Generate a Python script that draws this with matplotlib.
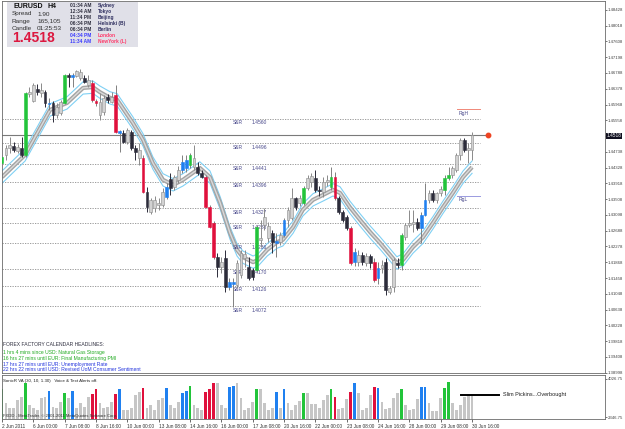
import matplotlib
matplotlib.use("Agg")
import matplotlib.pyplot as plt
from matplotlib.patches import Rectangle

plt.rcParams['font.family'] = ['Liberation Sans', 'DejaVu Sans']

# --- EURUSD H4 candles (2 Jun 2011 .. 30 Jun 2011) ---
opens = [1.4445, 1.4466, 1.4484, 1.4489, 1.4476, 1.4484, 1.4466, 1.4624, 1.4606, 1.4637,
         1.4627, 1.4629, 1.4598, 1.4601, 1.4570, 1.4575, 1.4601, 1.4674, 1.4668, 1.4671,
         1.4666, 1.4666, 1.4648, 1.4653, 1.4606, 1.4570, 1.4577, 1.4616, 1.4603, 1.4622,
         1.4528, 1.4523, 1.4499, 1.4525, 1.4484, 1.4458, 1.4458, 1.4369, 1.4317, 1.4328,
         1.4336, 1.4336, 1.4356, 1.4403, 1.4382, 1.4401, 1.4427, 1.4432, 1.4440, 1.4434,
         1.4434, 1.4419, 1.4408, 1.4330, 1.4289, 1.4200, 1.4174, 1.4198, 1.4122, 1.4130,
         1.4128, 1.4154, 1.4198, 1.4174, 1.4167, 1.4167, 1.4245, 1.4284, 1.4250, 1.4263,
         1.4242, 1.4239, 1.4258, 1.4297, 1.4302, 1.4354, 1.4341, 1.4341, 1.4380, 1.4395,
         1.4406, 1.4375, 1.4369, 1.4395, 1.4382, 1.4408, 1.4354, 1.4317, 1.4304, 1.4276,
         1.4187, 1.4187, 1.4206, 1.4185, 1.4203, 1.4187, 1.4146, 1.4172, 1.4187, 1.4109,
         1.4122, 1.4185, 1.4180, 1.4252, 1.4284, 1.4286, 1.4291, 1.4276, 1.4310, 1.4349,
         1.4367, 1.4349, 1.4367, 1.4375, 1.4406, 1.4414, 1.4427, 1.4466, 1.4505, 1.4479,
         1.4479]
highs = [1.4466, 1.4492, 1.4512, 1.4499, 1.4494, 1.4512, 1.4629, 1.4642, 1.4653, 1.4650,
         1.4653, 1.4635, 1.4614, 1.4606, 1.4601, 1.4609, 1.4676, 1.4679, 1.4679, 1.4687,
         1.4689, 1.4674, 1.4674, 1.4661, 1.4611, 1.4627, 1.4622, 1.4624, 1.4629, 1.4648,
         1.4531, 1.4531, 1.4536, 1.4531, 1.4492, 1.4497, 1.4466, 1.4382, 1.4354, 1.4359,
         1.4354, 1.4380, 1.4393, 1.4419, 1.4414, 1.4437, 1.4466, 1.4466, 1.4471, 1.4492,
         1.4447, 1.4427, 1.4414, 1.4336, 1.4294, 1.4211, 1.4200, 1.4219, 1.4146, 1.4146,
         1.4193, 1.4219, 1.4219, 1.4200, 1.4172, 1.4284, 1.4297, 1.4328, 1.4291, 1.4271,
         1.4263, 1.4265, 1.4302, 1.4330, 1.4380, 1.4356, 1.4362, 1.4385, 1.4414, 1.4419,
         1.4427, 1.4385, 1.4408, 1.4414, 1.4434, 1.4421, 1.4359, 1.4323, 1.4310, 1.4281,
         1.4224, 1.4219, 1.4213, 1.4211, 1.4208, 1.4198, 1.4187, 1.4193, 1.4198, 1.4125,
         1.4198, 1.4198, 1.4263, 1.4289, 1.4323, 1.4323, 1.4302, 1.4317, 1.4393, 1.4375,
         1.4375, 1.4369, 1.4385, 1.4414, 1.4434, 1.4437, 1.4471, 1.4510, 1.4510, 1.4497,
         1.4525]
lows = [1.4440, 1.4453, 1.4471, 1.4473, 1.4471, 1.4460, 1.4460, 1.4616, 1.4603, 1.4622,
        1.4616, 1.4590, 1.4583, 1.4551, 1.4562, 1.4570, 1.4598, 1.4642, 1.4642, 1.4668,
        1.4661, 1.4653, 1.4642, 1.4603, 1.4593, 1.4557, 1.4570, 1.4601, 1.4601, 1.4523,
        1.4473, 1.4497, 1.4494, 1.4479, 1.4453, 1.4440, 1.4367, 1.4317, 1.4312, 1.4317,
        1.4323, 1.4330, 1.4351, 1.4362, 1.4375, 1.4393, 1.4419, 1.4421, 1.4432, 1.4427,
        1.4414, 1.4406, 1.4328, 1.4276, 1.4195, 1.4148, 1.4159, 1.4109, 1.4115, 1.4070,
        1.4120, 1.4146, 1.4174, 1.4141, 1.4141, 1.4161, 1.4226, 1.4271, 1.4239, 1.4211,
        1.4200, 1.4232, 1.4252, 1.4278, 1.4297, 1.4323, 1.4333, 1.4336, 1.4375, 1.4382,
        1.4369, 1.4359, 1.4356, 1.4385, 1.4375, 1.4349, 1.4312, 1.4291, 1.4271, 1.4180,
        1.4177, 1.4177, 1.4180, 1.4177, 1.4172, 1.4135, 1.4130, 1.4159, 1.4102, 1.4104,
        1.4109, 1.4172, 1.4167, 1.4245, 1.4278, 1.4265, 1.4271, 1.4237, 1.4307, 1.4341,
        1.4343, 1.4341, 1.4359, 1.4362, 1.4401, 1.4406, 1.4421, 1.4453, 1.4473, 1.4445,
        1.4453]
closes = [1.4460, 1.4484, 1.4492, 1.4479, 1.4486, 1.4466, 1.4627, 1.4629, 1.4648, 1.4629,
          1.4635, 1.4601, 1.4601, 1.4570, 1.4590, 1.4603, 1.4674, 1.4668, 1.4674, 1.4684,
          1.4681, 1.4655, 1.4661, 1.4609, 1.4601, 1.4603, 1.4614, 1.4609, 1.4616, 1.4525,
          1.4523, 1.4499, 1.4531, 1.4484, 1.4473, 1.4479, 1.4369, 1.4330, 1.4349, 1.4349,
          1.4341, 1.4369, 1.4382, 1.4380, 1.4408, 1.4427, 1.4447, 1.4453, 1.4466, 1.4458,
          1.4419, 1.4408, 1.4330, 1.4278, 1.4200, 1.4174, 1.4187, 1.4122, 1.4135, 1.4135,
          1.4185, 1.4211, 1.4208, 1.4146, 1.4148, 1.4278, 1.4250, 1.4304, 1.4281, 1.4239,
          1.4237, 1.4258, 1.4297, 1.4323, 1.4354, 1.4330, 1.4354, 1.4380, 1.4406, 1.4411,
          1.4375, 1.4372, 1.4395, 1.4401, 1.4408, 1.4354, 1.4317, 1.4297, 1.4276, 1.4185,
          1.4213, 1.4206, 1.4187, 1.4203, 1.4185, 1.4141, 1.4172, 1.4180, 1.4115, 1.4120,
          1.4193, 1.4180, 1.4258, 1.4284, 1.4289, 1.4291, 1.4276, 1.4310, 1.4349, 1.4367,
          1.4349, 1.4367, 1.4377, 1.4406, 1.4414, 1.4432, 1.4466, 1.4505, 1.4479, 1.4484,
          1.4518]

# SonicR VA volume
volume = [3585, 2966, 2745, 2745, 3098, 3231, 3850, 2877, 2745, 2656,
          3187, 3231, 3496, 2789, 2745, 3010, 3408, 3187, 3496, 2745,
          2966, 2789, 3231, 3364, 3585, 2966, 2745, 2789, 3010, 3364,
          3585, 2656, 2656, 2745, 3319, 3452, 3629, 2745, 2877, 2656,
          3098, 3187, 3629, 2877, 2745, 3010, 3408, 3496, 3717, 2877,
          2745, 2656, 3452, 3585, 3850, 3850, 2877, 2745, 3673, 3717,
          3850, 3187, 2656, 2745, 3010, 3585, 3585, 2966, 2656, 2745,
          3452, 2745, 3585, 2966, 2656, 2877, 3054, 3408, 3408, 2922,
          2922, 2745, 3098, 3319, 3585, 3231, 2701, 2745, 3143, 3452,
          3850, 3408, 2656, 2745, 3319, 3673, 3629, 3010, 2701, 2745,
          3187, 3408, 3585, 2877, 2656, 2701, 3143, 3673, 3673, 2966,
          2612, 2612, 3187, 3629, 3894, 2966, 2656, 2877, 3231, 3364,
          3364]
green_bars = [0, 6, 16, 48, 65, 77, 84, 102, 113, 114]
red_bars = [23, 24, 29, 36, 52, 53, 54, 85, 89, 95]
blue_bars = [12, 18, 30, 42, 46, 47, 58, 59, 70, 72, 90, 96, 107, 108]

# moving average ribbon, read at bar positions
ma_bar = [0, 5.9, 12.3, 16.6, 20.7, 23.2, 25, 27.6, 29.4, 33.4, 36, 38.5, 41.1, 43.7, 46.2,
          50.5, 53.1, 55.7, 58.2, 60, 61.5, 64.1, 65.4, 67.7, 70.2, 71.7, 74.3, 76.8, 79.4,
          82, 84.5, 86.3, 88.8, 91.4, 94, 96.5, 100.8, 102.4, 104.9, 107.5, 110, 112.6,
          115.1, 117.7, 120]
ma_val = [1.4408, 1.4466, 1.4583, 1.4601, 1.4640, 1.4642, 1.4629, 1.4614, 1.4609, 1.4549,
          1.4505, 1.4445, 1.4401, 1.4388, 1.4401, 1.4432, 1.4408, 1.4341, 1.4263, 1.4219,
          1.4200, 1.4187, 1.4193, 1.4219, 1.4239, 1.4245, 1.4278, 1.4323, 1.4349, 1.4362,
          1.4375, 1.4367, 1.4330, 1.4297, 1.4265, 1.4237, 1.4185, 1.4193, 1.4226, 1.4252,
          1.4289, 1.4330, 1.4367, 1.4408, 1.4434]
env_width = 0.0016

sr_levels = [1.4560, 1.4496, 1.4441, 1.4396, 1.4327, 1.4288, 1.4236, 1.4170, 1.4126, 1.4072]
range_high = 1.4584
range_low = 1.4360
bid = 1.4518

price_ticks = ["1.38998", "1.39408", "1.39818", "1.40228", "1.40638", "1.41048", "1.41458",
               "1.41868", "1.42278", "1.42688", "1.43098", "1.43508", "1.43918", "1.44328",
               "1.44738", "1.45148", "1.45558", "1.45968", "1.46378", "1.46788", "1.47198",
               "1.47608", "1.48018", "1.48428"]
vol_ticks = ["2346.75", "4026.75"]
time_bars = [0, 8, 16, 24, 32, 40, 48, 56, 64, 72, 80, 88, 96, 104, 112, 120]
time_labels = ["2 Jun 2011", "6 Jun 00:00", "7 Jun 08:00", "8 Jun 16:00", "10 Jun 00:00",
               "13 Jun 08:00", "14 Jun 16:00", "16 Jun 00:00", "17 Jun 08:00", "20 Jun 16:00",
               "22 Jun 00:00", "23 Jun 08:00", "24 Jun 16:00", "28 Jun 00:00", "29 Jun 08:00",
               "30 Jun 16:00"]

sessions = [("01:34 AM", "Sydney"), ("12:34 AM", "Tokyo"), ("11:34 PM", "Beijing"),
            ("06:34 PM", "Helsinki (B)"), ("06:34 PM", "Berlin"), ("04:34 PM", "London"),
            ("11:34 AM", "NewYork (L)")]
headlines = [("1 hrs 4 mins since USD: Natural Gas Storage", "#22aa22"),
             ("16 hrs 27 mins until EUR: Final Manufacturing PMI", "#22aa22"),
             ("17 hrs 27 mins until EUR: Unemployment Rate", "#2233dd"),
             ("22 hrs 22 mins until USD: Revised UoM Consumer Sentiment", "#2233dd")]

W, H = 625, 429
BAR_PX = 3.917


def fx(px):
    return px / W


def fy(py):
    return 1 - py / H


fig = plt.figure(figsize=(W / 100, H / 100), dpi=100)
ax = fig.add_axes([fx(2), fy(373), 603 / W, 372 / H])
av = fig.add_axes([fx(2), fy(419), 603 / W, 44 / H])

xmax = 603 / BAR_PX
for a in (ax, av):
    a.set_xlim(0, xmax)
    for s in a.spines.values():
        s.set_color('#6a6a6a')
        s.set_linewidth(0.6)
ax.set_ylim(1.38988, 1.48660)
av.set_ylim(2258.6, 4203)

GREEN, RED, BLUE = '#22c43a', '#e0103c', '#1f80f0'


def bar_colour(i):
    if i in green_bars:
        return GREEN
    if i in red_bars:
        return RED
    if i in blue_bars:
        return BLUE
    return None


# S&R dotted levels
sr_end = (480 - 2) / BAR_PX
for lv in sr_levels:
    ax.plot([0, sr_end], [lv, lv], color='#8c8c8c', lw=0.6, ls=(0, (1.5, 1.5)), zorder=1)
    ax.text((233 - 2) / BAR_PX, lv - 0.0004, "S&R", fontsize=3.6, color='#4a4a8c', va='top')
    ax.text((252 - 2) / BAR_PX, lv - 0.0004, f"{lv:.4f}", fontsize=3.6, color='#4a4a8c', va='top')

# bid line + marker
ax.plot([0, (486 - 2) / BAR_PX], [bid, bid], color='#7a7a7a', lw=0.8, zorder=1)
ax.plot([(488 - 2) / BAR_PX], [bid], 'o', color='#ee4422', ms=3.2, zorder=6)

# range lines
rx0, rx1 = (457 - 2) / BAR_PX, (480 - 2) / BAR_PX
ax.plot([rx0, rx1], [range_high, range_high], color='#f08878', lw=0.7)
ax.plot([rx0, rx1], [range_low, range_low], color='#9a9ae0', lw=0.7)
ax.text(rx0 + 0.3, range_high - 0.0003, "RgH", fontsize=3.6, color='#4a4a8c', va='top')
ax.text(rx0 + 0.3, range_low - 0.0003, "RgL", fontsize=3.6, color='#4a4a8c', va='top')

# SonicR dragon ribbon
up = [v + env_width for v in ma_val]
dn = [v - env_width for v in ma_val]
ax.plot(ma_bar, up, color='#7fd0f4', lw=0.8, zorder=2)
ax.plot(ma_bar, dn, color='#7fd0f4', lw=0.8, zorder=2)
ax.plot(ma_bar, ma_val, color='#a4a4a4', lw=3.0, zorder=2, solid_capstyle='butt')
ax.plot(ma_bar, ma_val, color='#dadada', lw=1.0, zorder=2)

# candles
for i in range(len(opens)):
    o, h, l, c = opens[i], highs[i], lows[i], closes[i]
    col = bar_colour(i)
    if col is not None:
        face = edge = col
        wick = '#808080'
    elif c >= o:
        face, edge, wick = '#d2d2d2', '#8a8a8a', '#8a8a8a'
    else:
        face = edge = wick = '#2c2c3a'
    ax.vlines(i, l, h, color=wick, lw=0.7, zorder=3)
    ax.add_patch(Rectangle((i - 0.36, min(o, c)), 0.72, max(abs(c - o), 0.0001),
                           facecolor=face, edgecolor=edge, lw=0.4, zorder=4))

ax.set_xticks([])
ax.yaxis.tick_right()
ax.set_yticks([float(t) for t in price_ticks])
# the 1.45148 label sits under the current price tag, as in the terminal
ax.set_yticklabels(["" if t == "1.45148" else t for t in price_ticks])
ax.tick_params(axis='y', length=1.5, width=0.5, pad=0.6, labelsize=3.1, colors='#404040')

# volume pane
vbase = 2258.6
vcols = []
for i in range(len(volume)):
    c = bar_colour(i)
    vcols.append(c if c is not None else '#c6c6c6')
av.bar(range(len(volume)), [v - vbase for v in volume], bottom=vbase, width=0.72,
       color=vcols, zorder=2)
av.yaxis.tick_right()
av.set_yticks([float(t) for t in vol_ticks])
av.set_yticklabels(vol_ticks)
av.tick_params(axis='y', length=1.5, width=0.5, pad=0.6, labelsize=3.1, colors='#404040')
av.set_xticks(time_bars)
av.set_xticklabels(time_labels)
av.tick_params(axis='x', length=2, width=0.5, pad=1.5, labelsize=3.4, colors='#303030')
for lbl in av.get_xticklabels():
    lbl.set_ha('left')

av.plot([(461 - 2) / BAR_PX, (499 - 2) / BAR_PX], [3319, 3319], color='black', lw=1.4, zorder=3)
av.text((503 - 2) / BAR_PX, 3330, "Slim Pickins...Overbought", fontsize=4, color='#202020',
        va='center')

fig.text(fx(3), fy(381), "SonicR VA (30, 10, 1.30)   Voice & Text Alerts off.", fontsize=3.2,
         color='#202020', va='center')
fig.text(fx(3), fy(416), "FXDD - MetaTrader, \u00a9 2001-2011 MetaQuotes Software Corp.",
         fontsize=3.0, color='#303030', va='center', zorder=5)

# calendar headlines
fig.text(fx(3), fy(345), "FOREX FACTORY CALENDAR HEADLINES:", fontsize=3.6, color='#303040',
         va='center')
for k, (txt, col) in enumerate(headlines):
    fig.text(fx(3), fy(352.5 + 5.8 * k), txt, fontsize=3.6, color=col, va='center')

# current price tag
fig.text(fx(606.5), fy(136), "1.4518", fontsize=3.4, color='white', va='center', ha='left',
         bbox=dict(boxstyle='square,pad=0.2', facecolor='#101020', edgecolor='none'), zorder=10)

# info panel
fig.patches.append(Rectangle((fx(7), fy(47)), 131 / W, 45 / H, transform=fig.transFigure,
                             facecolor='#e0e0e8', edgecolor='none', zorder=5))
fig.text(fx(13), fy(6), "EURUSD", fontsize=5, weight='bold', color='#101010', va='center', zorder=6)
fig.text(fx(47), fy(6), "H4", fontsize=5, weight='bold', color='#101010', va='center', zorder=6)
for k, (lab, val) in enumerate([("Spread", "1.90"), ("Range", "165,105"), ("Candle", "01:25:53")]):
    fig.text(fx(12), fy(14 + 7 * k), lab, fontsize=4.6, color='#303030', va='center', zorder=6)
    fig.text(fx(37), fy(14 + 7 * k), val, fontsize=4.6, color='#303030', va='center', zorder=6)
fig.text(fx(12), fy(38.5), "1.4518", fontsize=10, weight='bold', color='#dc1840', va='center',
         zorder=6)
for k, (t, city) in enumerate(sessions):
    hot = city in ("London", "NewYork (L)")
    fig.text(fx(70), fy(5.7 + 5.95 * k), t, fontsize=3.5, weight='bold',
             color='#3a3aff' if hot else '#303040', va='center', zorder=6)
    fig.text(fx(97.5), fy(5.7 + 5.95 * k), city, fontsize=3.5, weight='bold',
             color='#ff3a6a' if hot else '#303060', va='center', zorder=6)

fig.savefig("out.png", dpi=100)
